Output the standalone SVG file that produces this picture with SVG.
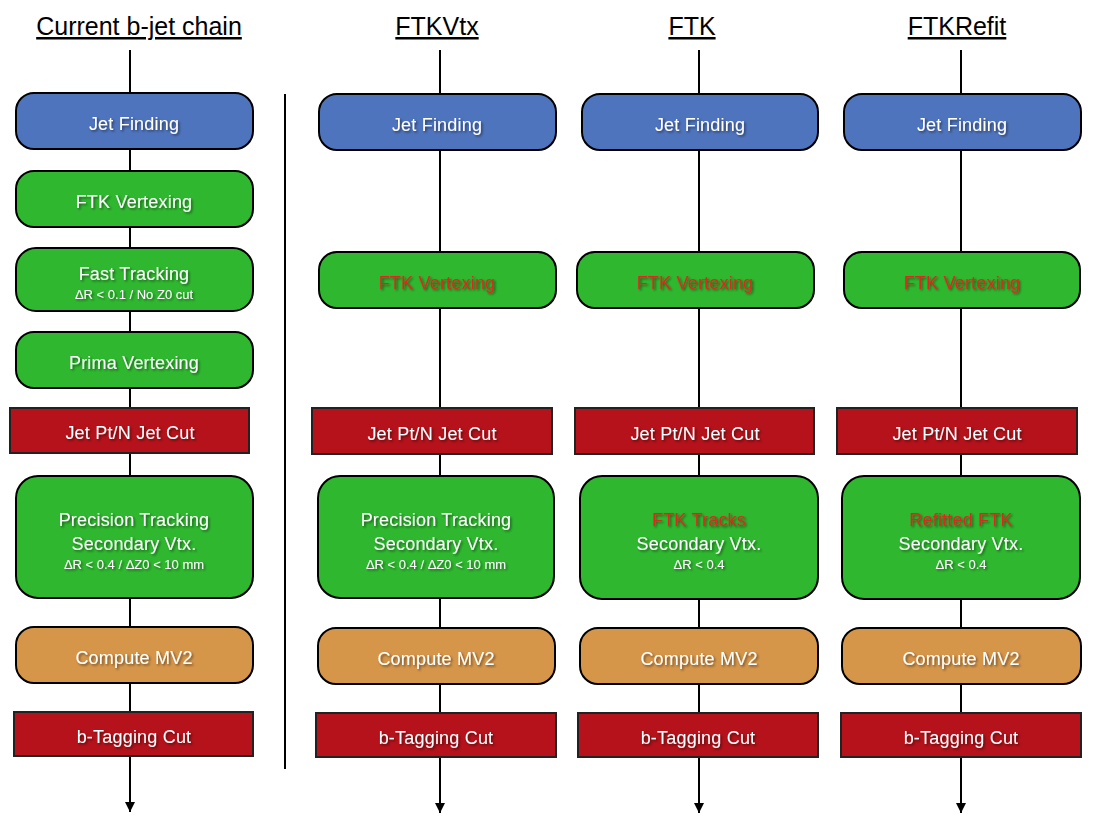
<svg xmlns="http://www.w3.org/2000/svg" width="1110" height="826" viewBox="0 0 1110 826">
<defs>
<style>
.t{font-family:"Liberation Sans","DejaVu Sans",sans-serif;font-size:18px;letter-spacing:0.2px;fill:#fff;text-anchor:middle;filter:url(#sh)}
.s{font-size:13px;letter-spacing:0}
.r{fill:#e0281c}
.h{font-family:"Liberation Sans","DejaVu Sans",sans-serif;font-size:25px;fill:#000;text-anchor:middle;text-decoration:underline}
.bl{fill:#4f74be;stroke:#000;stroke-width:2}
.gr{fill:#2fb82f;stroke:#000;stroke-width:2}
.rd{fill:#b5121b;stroke:#222;stroke-width:2}
.or{fill:#d6964a;stroke:#000;stroke-width:2}
.c{stroke:#000;stroke-width:2;fill:none}
</style>
<filter id="sh" x="-10%" y="-30%" width="130%" height="170%">
<feDropShadow dx="1.5" dy="1.5" stdDeviation="1" flood-color="#000" flood-opacity="0.5"/>
</filter>
<marker id="ar" viewBox="0 0 10 10" refX="10" refY="5" markerWidth="6" markerHeight="5" orient="auto" markerUnits="strokeWidth">
<path d="M0,0 L10,5 L0,10 z" fill="#000"/>
</marker>
</defs>

<g id="titles">
<text class="h" x="139" y="35">Current b-jet chain</text>
<text class="h" x="437" y="35">FTKVtx</text>
<text class="h" x="692" y="35">FTK</text>
<text class="h" x="957" y="35">FTKRefit</text>
</g>

<g id="connectors">
<line class="c" x1="285" y1="94" x2="285" y2="769"/>
<line class="c" x1="130" y1="50" x2="130" y2="93"/>
<line class="c" x1="130" y1="149" x2="130" y2="171"/>
<line class="c" x1="130" y1="227" x2="130" y2="248"/>
<line class="c" x1="130" y1="311" x2="130" y2="332"/>
<line class="c" x1="130" y1="388" x2="130" y2="408"/>
<line class="c" x1="130" y1="453" x2="130" y2="476"/>
<line class="c" x1="130" y1="598" x2="130" y2="627"/>
<line class="c" x1="130" y1="683" x2="130" y2="712"/>
<line class="c" x1="130" y1="756" x2="130" y2="812" marker-end="url(#ar)"/>

<line class="c" x1="440" y1="50" x2="440" y2="94"/>
<line class="c" x1="440" y1="150" x2="440" y2="252"/>
<line class="c" x1="440" y1="308" x2="440" y2="408"/>
<line class="c" x1="440" y1="454" x2="440" y2="476"/>
<line class="c" x1="440" y1="598" x2="440" y2="628"/>
<line class="c" x1="440" y1="684" x2="440" y2="713"/>
<line class="c" x1="440" y1="757" x2="440" y2="813" marker-end="url(#ar)"/>

<line class="c" x1="699" y1="50" x2="699" y2="94"/>
<line class="c" x1="699" y1="150" x2="699" y2="252"/>
<line class="c" x1="699" y1="308" x2="699" y2="408"/>
<line class="c" x1="699" y1="454" x2="699" y2="476"/>
<line class="c" x1="699" y1="599" x2="699" y2="628"/>
<line class="c" x1="699" y1="684" x2="699" y2="713"/>
<line class="c" x1="699" y1="757" x2="699" y2="813" marker-end="url(#ar)"/>

<line class="c" x1="961" y1="50" x2="961" y2="94"/>
<line class="c" x1="961" y1="150" x2="961" y2="252"/>
<line class="c" x1="961" y1="308" x2="961" y2="408"/>
<line class="c" x1="961" y1="454" x2="961" y2="476"/>
<line class="c" x1="961" y1="599" x2="961" y2="628"/>
<line class="c" x1="961" y1="684" x2="961" y2="713"/>
<line class="c" x1="961" y1="757" x2="961" y2="813" marker-end="url(#ar)"/>
</g>

<!-- Column 1 -->
<g id="c1-jet"><rect class="bl" x="16" y="93" width="237" height="56" rx="18"/><text class="t" x="134" y="130">Jet Finding</text></g>
<g id="c1-ftkvtx"><rect class="gr" x="16" y="171" width="237" height="56" rx="18"/><text class="t" x="134" y="208">FTK Vertexing</text></g>
<g id="c1-fast"><rect class="gr" x="16" y="248" width="237" height="63" rx="20"/><text class="t" x="134" y="280">Fast Tracking</text><text class="t s" x="134" y="299">ΔR &lt; 0.1 / No Z0 cut</text></g>
<g id="c1-prima"><rect class="gr" x="16" y="332" width="237" height="56" rx="18"/><text class="t" x="134" y="369">Prima Vertexing</text></g>
<g id="c1-jetcut"><rect class="rd" x="10" y="408" width="239" height="45"/><text class="t" x="130" y="439">Jet Pt/N Jet Cut</text></g>
<g id="c1-prec"><rect class="gr" x="16" y="476" width="237" height="122" rx="22"/><text class="t" x="134" y="526">Precision Tracking</text><text class="t" x="134" y="550">Secondary Vtx.</text><text class="t s" x="134" y="569">ΔR &lt; 0.4 / ΔZ0 &lt; 10 mm</text></g>
<g id="c1-mv2"><rect class="or" x="16" y="627" width="237" height="56" rx="18"/><text class="t" x="134" y="664">Compute MV2</text></g>
<g id="c1-btag"><rect class="rd" x="14" y="712" width="239" height="44"/><text class="t" x="134" y="743">b-Tagging Cut</text></g>

<!-- Column 2 -->
<g id="c2-jet"><rect class="bl" x="319" y="94" width="237" height="56" rx="18"/><text class="t" x="437" y="131">Jet Finding</text></g>
<g id="c2-ftkvtx"><rect class="gr" x="319" y="252" width="237" height="56" rx="18"/><text class="t r" x="437" y="289">FTK Vertexing</text></g>
<g id="c2-jetcut"><rect class="rd" x="312" y="408" width="240" height="46"/><text class="t" x="432" y="440">Jet Pt/N Jet Cut</text></g>
<g id="c2-prec"><rect class="gr" x="318" y="476" width="236" height="122" rx="22"/><text class="t" x="436" y="526">Precision Tracking</text><text class="t" x="436" y="550">Secondary Vtx.</text><text class="t s" x="436" y="569">ΔR &lt; 0.4 / ΔZ0 &lt; 10 mm</text></g>
<g id="c2-mv2"><rect class="or" x="318" y="628" width="237" height="56" rx="18"/><text class="t" x="436" y="665">Compute MV2</text></g>
<g id="c2-btag"><rect class="rd" x="316" y="713" width="240" height="44"/><text class="t" x="436" y="744">b-Tagging Cut</text></g>

<!-- Column 3 -->
<g id="c3-jet"><rect class="bl" x="582" y="94" width="236" height="56" rx="18"/><text class="t" x="700" y="131">Jet Finding</text></g>
<g id="c3-ftkvtx"><rect class="gr" x="577" y="252" width="237" height="56" rx="18"/><text class="t r" x="695" y="289">FTK Vertexing</text></g>
<g id="c3-jetcut"><rect class="rd" x="575" y="408" width="239" height="46"/><text class="t" x="695" y="440">Jet Pt/N Jet Cut</text></g>
<g id="c3-trk"><rect class="gr" x="580" y="476" width="238" height="123" rx="22"/><text class="t r" x="699" y="526">FTK Tracks</text><text class="t" x="699" y="550">Secondary Vtx.</text><text class="t s" x="699" y="569">ΔR &lt; 0.4</text></g>
<g id="c3-mv2"><rect class="or" x="580" y="628" width="238" height="56" rx="18"/><text class="t" x="699" y="665">Compute MV2</text></g>
<g id="c3-btag"><rect class="rd" x="578" y="713" width="240" height="44"/><text class="t" x="698" y="744">b-Tagging Cut</text></g>

<!-- Column 4 -->
<g id="c4-jet"><rect class="bl" x="844" y="94" width="237" height="56" rx="18"/><text class="t" x="962" y="131">Jet Finding</text></g>
<g id="c4-ftkvtx"><rect class="gr" x="844" y="252" width="236" height="56" rx="18"/><text class="t r" x="962" y="289">FTK Vertexing</text></g>
<g id="c4-jetcut"><rect class="rd" x="837" y="408" width="240" height="46"/><text class="t" x="957" y="440">Jet Pt/N Jet Cut</text></g>
<g id="c4-trk"><rect class="gr" x="842" y="476" width="238" height="123" rx="22"/><text class="t r" x="961" y="526">Refitted FTK</text><text class="t" x="961" y="550">Secondary Vtx.</text><text class="t s" x="961" y="569">ΔR &lt; 0.4</text></g>
<g id="c4-mv2"><rect class="or" x="842" y="628" width="239" height="56" rx="18"/><text class="t" x="961" y="665">Compute MV2</text></g>
<g id="c4-btag"><rect class="rd" x="841" y="713" width="240" height="44"/><text class="t" x="961" y="744">b-Tagging Cut</text></g>
</svg>
